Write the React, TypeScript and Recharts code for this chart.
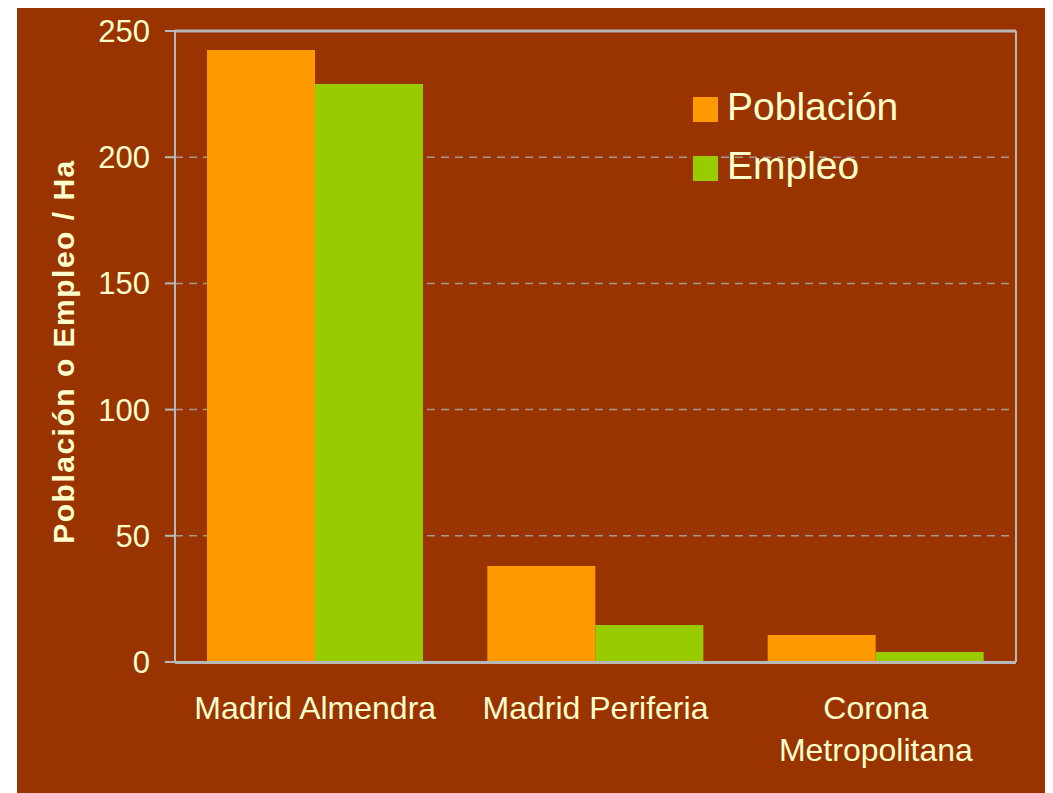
import React from "react";
import { Bar, BarChart, CartesianGrid, Legend, ReferenceLine, XAxis, YAxis } from "recharts";

const categories = ["Madrid Almendra", "Madrid Periferia", "Corona Metropolitana"];
const seriesNames = ["Población", "Empleo"];
const poblacion = [242.5, 38, 10.7];
const empleo = [229, 14.7, 4];
const yTicks = [0, 50, 100, 150, 200, 250];
const edgeTicks = [0, 1, 2, 3];

const data = categories.map((name, i) => ({
  name,
  poblacion: poblacion[i],
  empleo: empleo[i],
}));

const TEXT = "#FFFFCC";
const AXIS = "#B8B8B8";
const FONT = "'Liberation Sans', Arial, sans-serif";

// long names go on two lines, like the original slide
const CategoryTick = (props: any) => {
  const { x, y, payload } = props;
  const value: string = payload.value;
  const lines = value.length > 16 ? value.split(" ") : [value];
  return (
    <text x={x} y={y + 55} textAnchor="middle" fill={TEXT} fontSize={32} fontFamily={FONT}>
      {lines.map((l, i) => (
        <tspan key={i} x={x} dy={i === 0 ? 0 : 42}>
          {l}
        </tspan>
      ))}
    </text>
  );
};

const YLabel = (props: any) => {
  const { viewBox } = props;
  const cx = viewBox.x + 46.5;
  const cy = viewBox.y + viewBox.height / 2 + 5;
  return (
    <text
      x={cx}
      y={cy}
      transform={`rotate(-90, ${cx}, ${cy})`}
      textAnchor="middle"
      dominantBaseline="central"
      fill={TEXT}
      fontSize={30}
      fontWeight="bold"
      letterSpacing={1.5}
      fontFamily={FONT}
    >
      Población o Empleo / Ha
    </text>
  );
};

const LegendBox = (props: any) => {
  const items = [...(props.payload || [])].sort(
    (a: any, b: any) => seriesNames.indexOf(a.value) - seriesNames.indexOf(b.value)
  );
  return (
    <div style={{ fontFamily: FONT }}>
      {items.map((p: any) => (
        <div key={p.value} style={{ display: "flex", alignItems: "center", height: 59 }}>
          <div style={{ width: 25, height: 25, background: p.color, position: "relative", top: 3 }} />
          <span style={{ marginLeft: 9, color: TEXT, fontSize: 39, lineHeight: "39px" }}>{p.value}</span>
        </div>
      ))}
    </div>
  );
};

const App = () => {
  return (
    <div style={{ marginLeft: 9, width: 1036, height: 785, background: "#993300", position: "relative" }}>
      <style>{"body{overflow:hidden}"}</style>
      <BarChart
        width={1036}
        height={785}
        data={data}
        margin={{ top: 23, right: 36, left: 0, bottom: 0 }}
        barCategoryGap={32}
        barGap={0}
      >
        <CartesianGrid xAxisId="cat" vertical={false} stroke="#A89890" strokeWidth={1.5} strokeDasharray="8 6" />
        <XAxis
          xAxisId="cat"
          dataKey="name"
          tickLine={false}
          axisLine={false}
          tickSize={0}
          tick={<CategoryTick />}
          interval={0}
          height={1}
        />
        <XAxis
          xAxisId="edges"
          type="number"
          domain={[0, 3]}
          ticks={edgeTicks}
          tick={false}
          tickSize={10}
          height={130}
          stroke={AXIS}
          strokeWidth={2}
        />
        <YAxis
          domain={[0, 250]}
          ticks={yTicks}
          width={158}
          tickSize={10}
          tickMargin={15}
          stroke={AXIS}
          strokeWidth={2}
          tick={{ fill: TEXT, fontSize: 31, fontFamily: FONT }}
          label={<YLabel />}
        />
        <YAxis yAxisId="right" orientation="right" domain={[0, 1]} tick={false} tickLine={false} width={1} stroke={AXIS} strokeWidth={2} />
        <ReferenceLine xAxisId="cat" y={250} stroke={AXIS} strokeWidth={3} />
        <ReferenceLine xAxisId="cat" y={0} stroke={AXIS} strokeWidth={2} />
        <Legend
          layout="vertical"
          align="center"
          verticalAlign="middle"
          content={<LegendBox />}
          wrapperStyle={{ left: 676, top: 69, width: "auto", height: "auto" }}
        />
        <Bar xAxisId="cat" dataKey="poblacion" name="Población" fill="#FF9900" isAnimationActive={false} />
        <Bar xAxisId="cat" dataKey="empleo" name="Empleo" fill="#99CC00" isAnimationActive={false} />
      </BarChart>
    </div>
  );
};

export default App;
